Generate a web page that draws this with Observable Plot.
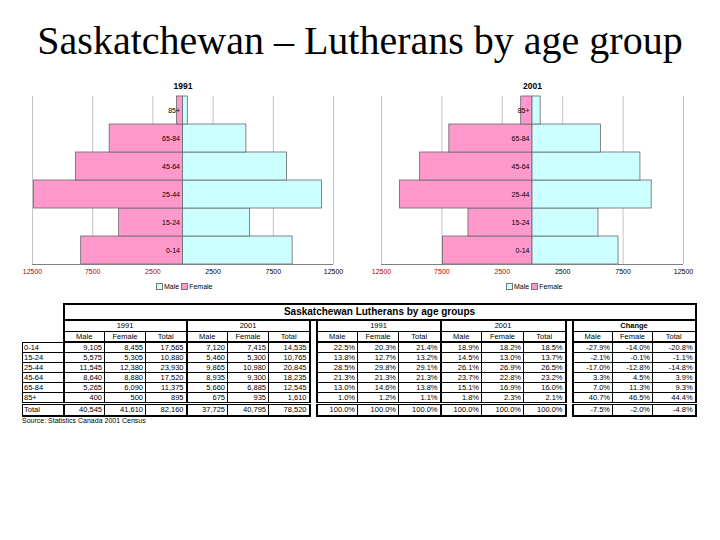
<!DOCTYPE html>
<html>
<head>
<meta charset="utf-8">
<script src="https://cdn.jsdelivr.net/npm/d3@7"></script>
<script src="https://cdn.jsdelivr.net/npm/@observablehq/plot@0.6"></script>
<style>
  html, body { margin: 0; padding: 0; background: #fff; }
  body { width: 720px; height: 540px; position: relative; overflow: hidden; font-family: "Liberation Sans", Arial, sans-serif; }
  #title { position: absolute; left: 0; top: 21px; width: 720px; text-align: center; font-family: "Liberation Serif", "Times New Roman", serif; font-size: 40px; line-height: 40px; color: #000; white-space: nowrap; }
  .chart { position: absolute; top: 70px; }
  .legend { position: absolute; top: 283px; font-size: 7px; line-height: 8px; white-space: nowrap; color: #000; }
  .legend span.sw { display: inline-block; width: 5px; height: 5px; border: 1px solid #777; margin-right: 1px; vertical-align: -1px; }
  #tbl { position: absolute; left: 22px; top: 303px; border-collapse: collapse; table-layout: fixed; font-size: 7.5px; color: #000; }
  #tbl td { padding: 0 2px 0 1px; border: 1px solid #000; overflow: hidden; white-space: nowrap; line-height: 9px; height: 9px; }
  #tbl td.num { text-align: right; }
  #tbl td.c { text-align: center; padding: 0; }
  #tbl td.blank { border: none; }
  #tbl td.sp { border-top: none; border-bottom: none; border-left: 2px solid #000; border-right: 2px solid #000; padding: 0; }
  #source { position: absolute; left: 22px; top: 416px; font-size: 7px; line-height: 9px; }
</style>
</head>
<body>
<div id="title">Saskatchewan – Lutherans by age group</div>
<div id="c1" class="chart" style="left:0px"></div>
<div id="c2" class="chart" style="left:350px"></div>
<div class="legend" style="left:156px"><span class="sw" style="background:#ccffff"></span>Male <span class="sw" style="background:#ff99cc"></span>Female</div>
<div class="legend" style="left:506px"><span class="sw" style="background:#ccffff"></span>Male <span class="sw" style="background:#ff99cc"></span>Female</div>
<table id="tbl"></table>
<div id="source">Source: Statistics Canada 2001 Census</div>
<script>
// ---- data ----
const ages = ["0-14", "15-24", "25-44", "45-64", "65-84", "85+"];
const axisTicks = [-12500, -7500, -2500, 2500, 7500, 12500];

const male1991 = [9105, 5575, 11545, 8640, 5265, 400];
const female1991 = [8455, 5305, 12380, 8880, 6090, 500];
const total1991 = [17565, 10880, 23930, 17520, 11375, 895];
const male2001 = [7120, 5460, 9865, 8935, 5660, 675];
const female2001 = [7415, 5300, 10980, 9300, 6885, 935];
const total2001 = [14535, 10765, 20845, 18235, 12545, 1610];
const sum1991 = [40545, 41610, 82160];
const sum2001 = [37725, 40795, 78520];

const pctMale1991 = [22.5, 13.8, 28.5, 21.3, 13.0, 1.0];
const pctFemale1991 = [20.3, 12.7, 29.8, 21.3, 14.6, 1.2];
const pctTotal1991 = [21.4, 13.2, 29.1, 21.3, 13.8, 1.1];
const pctMale2001 = [18.9, 14.5, 26.1, 23.7, 15.1, 1.8];
const pctFemale2001 = [18.2, 13.0, 26.9, 22.8, 16.9, 2.3];
const pctTotal2001 = [18.5, 13.7, 26.5, 23.2, 16.0, 2.1];
const pctSum = [100.0, 100.0, 100.0];

const chgMale = [-27.9, -2.1, -17.0, 3.3, 7.0, 40.7];
const chgFemale = [-14.0, -0.1, -12.8, 4.5, 11.3, 46.5];
const chgTotal = [-20.8, -1.1, -14.8, 3.9, 9.3, 44.4];
const chgSum = [-7.5, -2.0, -4.8];

const tableTitle = "Saskatchewan Lutherans by age groups";
const subHeads = ["Male", "Female", "Total"];

// ---- pyramids ----
function pyramid(year, male, female, width, ml, mr) {
  const data = ages.map((a, i) => ({age: a, i, male: male[i], female: female[i]}));
  return Plot.plot({
    width, height: 215,
    marginLeft: ml, marginRight: mr, marginTop: 26, marginBottom: 21,
    x: {domain: [-12500, 12500], label: null},
    y: {domain: [0, 6], axis: null},
    style: {fontFamily: "'Liberation Sans', Arial, sans-serif", fontSize: "7px", background: "white", overflow: "visible"},
    marks: [
      Plot.gridX(axisTicks, {stroke: "#c4c4c4", strokeOpacity: 1}),
      Plot.rect(data, {x1: d => -d.female, x2: 0, y1: "i", y2: d => d.i + 1, fill: "#ff99cc", stroke: "#666", strokeWidth: 0.8}),
      Plot.rect(data, {x1: 0, x2: "male", y1: "i", y2: d => d.i + 1, fill: "#ccffff", stroke: "#666", strokeWidth: 0.8}),
      Plot.ruleY([0], {stroke: "#808080"}),
      Plot.text(data, {x: 0, y: d => d.i + 0.5, text: "age", textAnchor: "end", dx: -3, fontSize: 7, fill: "#000"}),
      Plot.axisX(axisTicks, {tickSize: 0, tickPadding: 5, label: null, tickFormat: d => String(Math.abs(d)), fill: d => d < 0 ? "#b00000" : "#000", fontSize: 7}),
      Plot.text([year], {frameAnchor: "top", dy: -14, fontWeight: "bold", fontSize: 8.5, fill: "#000"})
    ]
  });
}
document.getElementById("c1").append(pyramid("1991", male1991, female1991, 350, 32, 17));
document.getElementById("c2").append(pyramid("2001", male2001, female2001, 370, 31, 37));

// ---- table ----
const fmtN = d3.format(",");
const fmtP = d => d.toFixed(1) + "%";
const colW = [41, 41, 41, 41, 41, 41, 41, 7, 41, 41, 42, 41, 42, 42, 7, 40, 40, 43];
const tbl = document.getElementById("tbl");
const cg = document.createElement("colgroup");
colW.forEach(w => { const c = document.createElement("col"); c.style.width = w + "px"; cg.append(c); });
tbl.append(cg);
tbl.style.width = d3.sum(colW) + "px";

function cell(tr, text, cls, style, colspan) {
  const td = document.createElement("td");
  if (cls) td.className = cls;
  if (style) td.style.cssText = style;
  if (colspan) td.colSpan = colspan;
  td.textContent = text;
  tr.append(td);
  return td;
}
const T = "2px solid #000";
// title row
let tr = tbl.insertRow();
cell(tr, "", "blank");
cell(tr, tableTitle, "c", `border:${T};font-weight:bold;font-size:10px;height:14px;line-height:14px;`, 17);
// year row
tr = tbl.insertRow();
cell(tr, "", "blank");
const groups = [["1991", ""], ["2001", ""], null, ["1991", ""], ["2001", ""], null, ["Change", "font-weight:bold;"]];
groups.forEach(g => {
  if (!g) { cell(tr, "", "sp"); return; }
  cell(tr, g[0], "c", `border-left:${T};border-right:${T};border-top:${T};height:10px;line-height:10px;` + g[1], 3);
});
// header row
tr = tbl.insertRow();
cell(tr, "", "blank");
groups.forEach(g => {
  if (!g) { cell(tr, "", "sp"); return; }
  subHeads.forEach((h, k) => cell(tr, h, "c", `border-bottom:${T};height:9px;line-height:9px;` + (k === 0 ? `border-left:${T};` : "") + (k === 2 ? `border-right:${T};` : "")));
});
// data rows
const series = [
  [male1991, female1991, total1991, fmtN],
  [male2001, female2001, total2001, fmtN],
  null,
  [pctMale1991, pctFemale1991, pctTotal1991, fmtP],
  [pctMale2001, pctFemale2001, pctTotal2001, fmtP],
  null,
  [chgMale, chgFemale, chgTotal, fmtP]
];
const sums = [sum1991, sum2001, null, pctSum, pctSum, null, chgSum];
function dataRow(label, getter, isTotal) {
  const r = tbl.insertRow();
  const extra = isTotal ? `border-top:3px double #000;border-bottom:${T};height:10px;line-height:10px;` : "";
  cell(r, label, "", `text-align:left;` + extra);
  series.forEach((s, gi) => {
    if (!s) { cell(r, "", "sp"); return; }
    [0, 1, 2].forEach(k => {
      const v = getter(s, k, gi);
      cell(r, s[3](v), "num", extra + (k === 0 ? `border-left:${T};` : "") + (k === 2 ? `border-right:${T};` : ""));
    });
  });
}
ages.forEach((a, i) => dataRow(a, (s, k) => s[k][i], false));
dataRow("Total", (s, k, gi) => sums[gi][k], true);
</script>
</body>
</html>
